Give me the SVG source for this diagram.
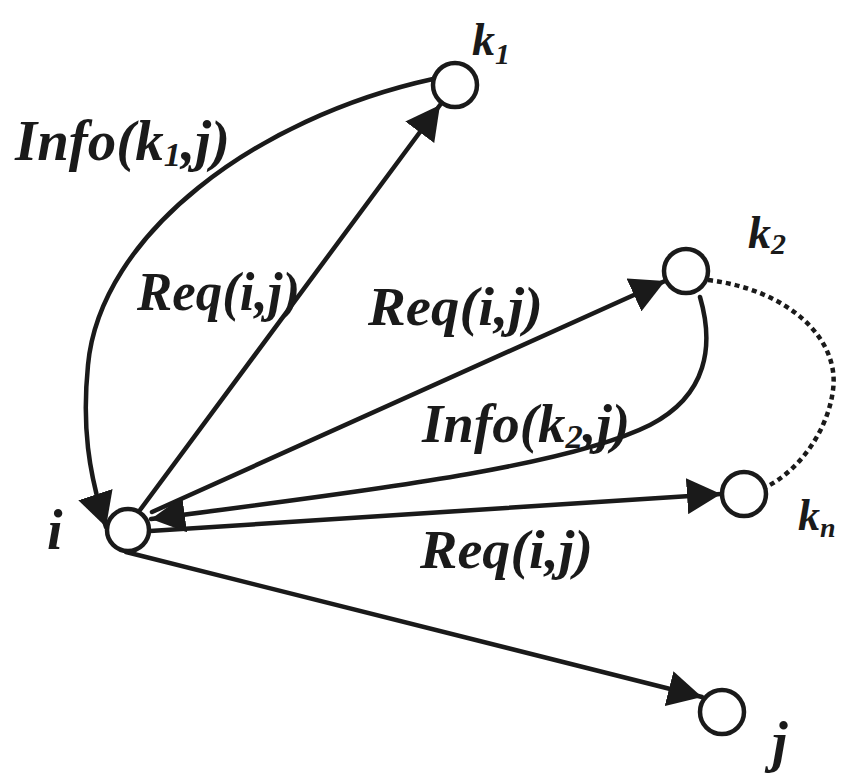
<svg xmlns="http://www.w3.org/2000/svg" width="843" height="777" viewBox="0 0 843 777">
<style>
.edge{fill:none;stroke:#1a1a1a;stroke-width:4.5;stroke-linecap:round}
.dot{fill:none;stroke:#1a1a1a;stroke-width:4.5;stroke-dasharray:5 4}
.node{fill:#fff;stroke:#1a1a1a;stroke-width:4.5}
.lbl{font-family:"Liberation Serif","DejaVu Serif",serif;font-style:italic;font-weight:bold;fill:#1a1a1a}
</style>
<defs>
<marker id="ah" viewBox="0 0 34 36" refX="34" refY="18" markerWidth="34" markerHeight="36" markerUnits="userSpaceOnUse" orient="auto">
<path d="M0,0 L34,18 L0,36 z" fill="#1a1a1a"/>
</marker>
</defs>
<rect width="843" height="777" fill="#fff"/>
<g id="connectors">
<path class="edge" d="M433,79 C255,118 100,235 88,365 C82,425 88,472 106,527" marker-end="url(#ah)"/>
<path class="edge" d="M140,510 L440,105" marker-end="url(#ah)"/>
<path class="edge" d="M152,512 L665,281" marker-end="url(#ah)"/>
<path class="edge" d="M700,297 C714,345 708,395 650,425 C560,470 330,495 151,519" marker-end="url(#ah)"/>
<path class="edge" d="M150,531 L721,494" stroke-width="5.5" marker-end="url(#ah)"/>
<path class="edge" d="M126,552 L702,697" marker-end="url(#ah)"/>
<path class="dot" d="M708,280 C790,290 840,340 833,390 C828,430 800,470 766,487"/>
</g>
<g id="node-i">
<circle class="node" cx="128" cy="530" r="21"/>
<text class="lbl" x="47" y="549" font-size="56">i</text>
</g>
<g id="node-k1">
<circle class="node" cx="455" cy="85" r="22"/>
<text class="lbl" x="472" y="55" font-size="46">k<tspan font-size="30" dy="9">1</tspan></text>
</g>
<g id="node-k2">
<circle class="node" cx="686" cy="271" r="22"/>
<text class="lbl" x="748" y="248" font-size="46">k<tspan font-size="30" dy="6">2</tspan></text>
</g>
<g id="node-kn">
<circle class="node" cx="744" cy="494" r="22"/>
<text class="lbl" x="798" y="530" font-size="44">k<tspan font-size="28" dy="7">n</tspan></text>
</g>
<g id="node-j">
<circle class="node" cx="722" cy="712" r="22"/>
<text class="lbl" x="772" y="761" font-size="56">j</text>
</g>
<g id="labels">
<text class="lbl" x="15" y="160" font-size="56" textLength="215" lengthAdjust="spacingAndGlyphs">Info(k<tspan font-size="34" dy="6">1</tspan><tspan dy="-6">,j)</tspan></text>
<text class="lbl" x="137" y="310" font-size="54" textLength="163" lengthAdjust="spacingAndGlyphs">Req(i,j)</text>
<text class="lbl" x="368" y="325" font-size="54" textLength="175" lengthAdjust="spacingAndGlyphs">Req(i,j)</text>
<text class="lbl" x="422" y="442" font-size="54" textLength="208" lengthAdjust="spacingAndGlyphs">Info(k<tspan font-size="34" dy="6">2</tspan><tspan dy="-6">,j)</tspan></text>
<text class="lbl" x="420" y="568" font-size="54" textLength="173" lengthAdjust="spacingAndGlyphs">Req(i,j)</text>
</g>
</svg>
